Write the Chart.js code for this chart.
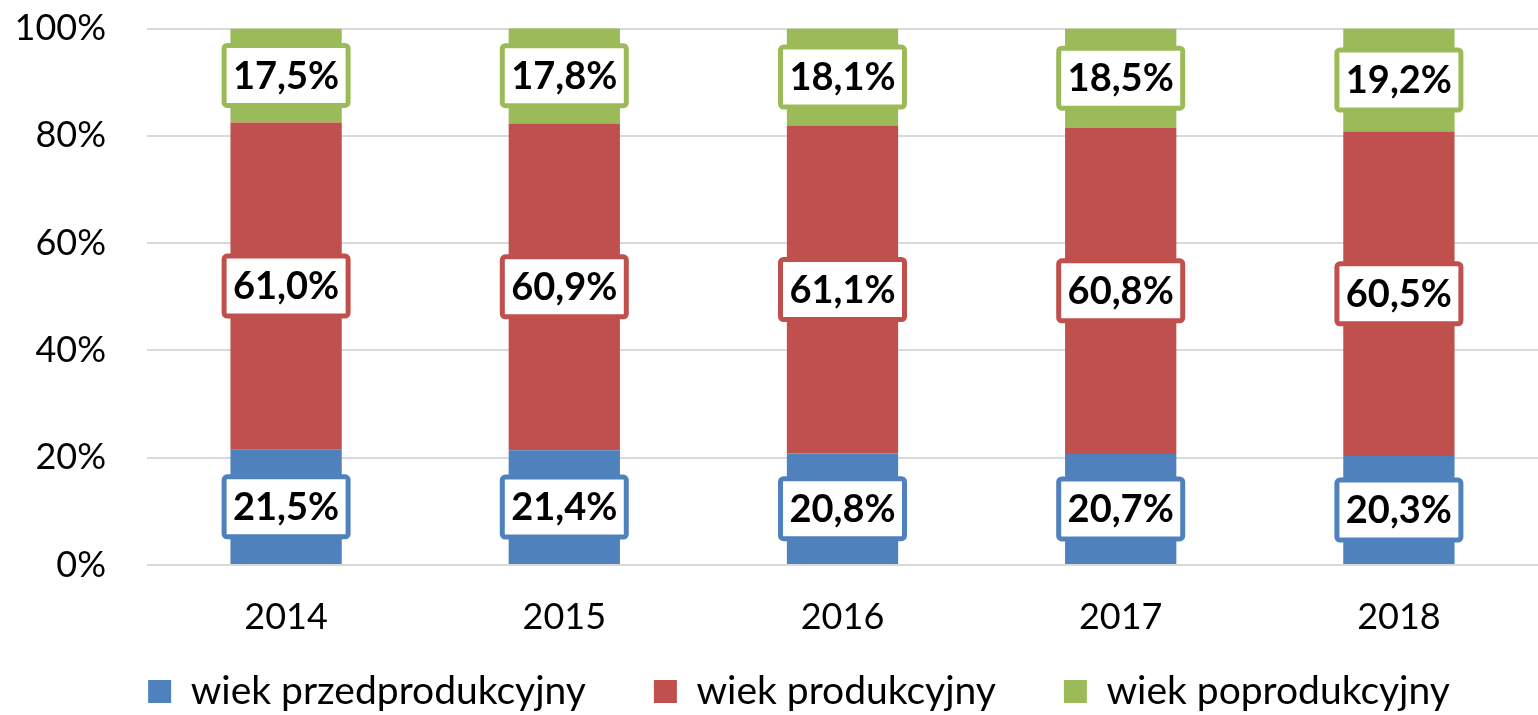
<!DOCTYPE html>
<html>
<head>
<meta charset="utf-8">
<script src="https://cdn.jsdelivr.net/npm/chart.js@4"></script>
<style>
  html, body { margin: 0; padding: 0; background: #fff; }
  #wrap { width: 1538px; height: 715px; }
</style>
</head>
<body>
<div id="wrap"><canvas id="chart"></canvas></div>
<script>
// dane
const years = ["2014", "2015", "2016", "2017", "2018"];
const przedprodukcyjny = [21.5, 21.4, 20.8, 20.7, 20.3];
const produkcyjny = [61.0, 60.9, 61.1, 60.8, 60.5];
const poprodukcyjny = [17.5, 17.8, 18.1, 18.5, 19.2];
const seriesNames = ["wiek przedprodukcyjny", "wiek produkcyjny", "wiek poprodukcyjny"];
const yTicks = [0, 20, 40, 60, 80, 100];

const FONT = "Lato, 'Liberation Sans', sans-serif";
const colors = ["#4F81BD", "#C0504D", "#9BBB59"];

// etykiety w ramkach na środku każdego segmentu
const boxLabels = {
  id: "boxLabels",
  afterDatasetsDraw(chart) {
    const ctx = chart.ctx;
    ctx.save();
    ctx.font = "bold 38px " + FONT;
    ctx.textAlign = "center";
    ctx.textBaseline = "middle";
    chart.data.datasets.forEach((ds, i) => {
      const meta = chart.getDatasetMeta(i);
      meta.data.forEach((bar, j) => {
        const cy = (bar.y + bar.base) / 2;
        const w = 124, h = 60;
        ctx.beginPath();
        ctx.roundRect(bar.x - w / 2, cy - h / 2, w, h, 3);
        ctx.fillStyle = "#fff";
        ctx.fill();
        ctx.lineWidth = 5;
        ctx.strokeStyle = ds.backgroundColor;
        ctx.stroke();
        ctx.fillStyle = "#000";
        ctx.fillText(ds.data[j].toFixed(1).replace(".", ",") + "%", bar.x, cy + 1);
      });
    });
    ctx.restore();
  }
};

// legenda: przesunięcie w dół i w prawo
const legendPos = {
  id: "legendPos",
  afterLayout(chart) {
    const lg = chart.legend;
    lg.top = 604;
    lg.bottom = 715;
    lg.height = lg.bottom - lg.top;
    lg.left += 30;
    lg.right += 30;
  }
};

new Chart(document.getElementById("chart").getContext("2d"), {
  type: "bar",
  data: {
    labels: years,
    datasets: [
      { label: seriesNames[0], data: przedprodukcyjny, backgroundColor: colors[0] },
      { label: seriesNames[1], data: produkcyjny, backgroundColor: colors[1] },
      { label: seriesNames[2], data: poprodukcyjny, backgroundColor: colors[2] }
    ]
  },
  options: {
    responsive: true,
    maintainAspectRatio: false,
    animation: false,
    layout: { padding: { top: 28.5, right: 0, left: 0, bottom: 0 } },
    datasets: { bar: { categoryPercentage: 1, barPercentage: 0.4 } },
    scales: {
      x: {
        stacked: true,
        afterFit(scale) { scale.height = 80; },
        grid: { display: false },
        border: { display: false },
        ticks: { color: "#000", font: { family: FONT, size: 36 }, padding: 23 }
      },
      y: {
        stacked: true,
        min: 0,
        max: 100,
        afterBuildTicks(scale) { scale.ticks = yTicks.map(v => ({ value: v })); },
        afterFit(scale) { scale.width = 147; },
        grid: { color: "#D9D9D9", lineWidth: 2, drawTicks: true, tickLength: 40, tickColor: "rgba(0,0,0,0)" },
        border: { display: false },
        ticks: {
          color: "#000",
          padding: 1,
          font: { family: FONT, size: 36 },
          callback: v => v + "%"
        }
      }
    },
    plugins: {
      tooltip: { enabled: false },
      legend: {
        position: "bottom",
        maxHeight: 70,
        labels: {
          color: "#000",
          boxWidth: 23,
          boxHeight: 23,
          padding: 68,
          font: { family: FONT, size: 39 }
        }
      }
    }
  },
  plugins: [boxLabels, legendPos]
});
</script>
</body>
</html>
